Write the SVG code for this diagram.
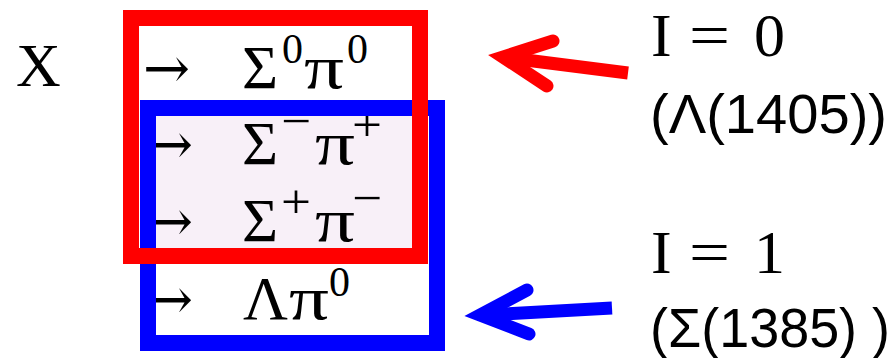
<svg xmlns="http://www.w3.org/2000/svg" width="895" height="358" viewBox="0 0 895 358">
<style>
.m{font-family:"Liberation Serif","DejaVu Serif",serif;font-size:62px;fill:#000}
.sup{font-family:"Liberation Serif","DejaVu Serif",serif;font-size:42px;fill:#000}
.op{font-family:"Liberation Serif","DejaVu Serif",serif;font-size:48px;fill:#000}
.ar{font-family:"DejaVu Serif","Liberation Serif",serif;font-size:58px;fill:#000}
.s{font-family:"Liberation Sans","Noto Sans",sans-serif;font-size:56px;fill:#000}
.box{fill:none;stroke-width:16}
.arrow{fill:none;stroke-width:13;stroke-linecap:round;stroke-linejoin:miter;stroke-miterlimit:10}
</style>
<rect width="895" height="358" fill="#fff"/>
<rect id="overlap" x="156" y="116" width="256" height="132" fill="#f8f0f8"/>
<g id="source"><text class="m" x="16" y="86">X</text></g>
<g id="row-sigma0-pi0">
<text class="ar" x="143" y="88" textLength="47" lengthAdjust="spacingAndGlyphs">→</text>
<text class="m" x="242" y="88">Σ</text><text class="sup" x="282" y="63">0</text>
<text class="m" x="304" y="88" textLength="40" lengthAdjust="spacingAndGlyphs">π</text><text class="sup" x="347" y="63">0</text>
</g>
<g id="row-sigmam-pip">
<text class="ar" x="146" y="164" textLength="47" lengthAdjust="spacingAndGlyphs">→</text>
<text class="m" x="242" y="164">Σ</text><text class="op" x="281" y="137" textLength="30" lengthAdjust="spacingAndGlyphs">−</text>
<text class="m" x="315" y="164" textLength="40" lengthAdjust="spacingAndGlyphs">π</text><text class="op" x="352" y="141" textLength="30" lengthAdjust="spacingAndGlyphs">+</text>
</g>
<g id="row-sigmap-pim">
<text class="ar" x="146" y="241" textLength="47" lengthAdjust="spacingAndGlyphs">→</text>
<text class="m" x="242" y="241">Σ</text><text class="op" x="281" y="218" textLength="30" lengthAdjust="spacingAndGlyphs">+</text>
<text class="m" x="315" y="241" textLength="40" lengthAdjust="spacingAndGlyphs">π</text><text class="op" x="352" y="214" textLength="30" lengthAdjust="spacingAndGlyphs">−</text>
</g>
<g id="row-lambda-pi0">
<text class="ar" x="146" y="319" textLength="47" lengthAdjust="spacingAndGlyphs">→</text>
<text class="m" x="243" y="319">Λ</text>
<text class="m" x="289" y="319" textLength="40" lengthAdjust="spacingAndGlyphs">π</text><text class="sup" x="329" y="296">0</text>
</g>
<g id="box-i1"><rect class="box" x="148" y="108" width="289" height="235" stroke="#0000ff"/></g>
<g id="box-i0"><rect class="box" x="131" y="18" width="289" height="238" stroke="#ff0000"/></g>
<g id="label-i0">
<text class="m" x="651" y="56">I</text><text class="m" x="689" y="56" textLength="41" lengthAdjust="spacingAndGlyphs">=</text><text class="m" x="754" y="56">0</text>
<text class="s" x="650" y="133" textLength="237" lengthAdjust="spacingAndGlyphs">(Λ(1405))</text>
</g>
<g id="label-i1">
<text class="m" x="651" y="273">I</text><text class="m" x="689" y="273" textLength="41" lengthAdjust="spacingAndGlyphs">=</text><text class="m" x="754" y="273">1</text>
<text class="s" x="650" y="347" textLength="240" lengthAdjust="spacingAndGlyphs">(Σ(1385) )</text>
</g>
<g id="connectors">
<g stroke="#ff0000">
<line x1="628" y1="73" x2="510" y2="58" stroke-width="13"/>
<polyline class="arrow" points="553,41 503,57 547,86"/>
</g>
<g stroke="#0000ff">
<line x1="612" y1="308" x2="486" y2="315" stroke-width="13"/>
<polyline class="arrow" points="527,290 480,315 529,334"/>
</g>
</g>
</svg>
